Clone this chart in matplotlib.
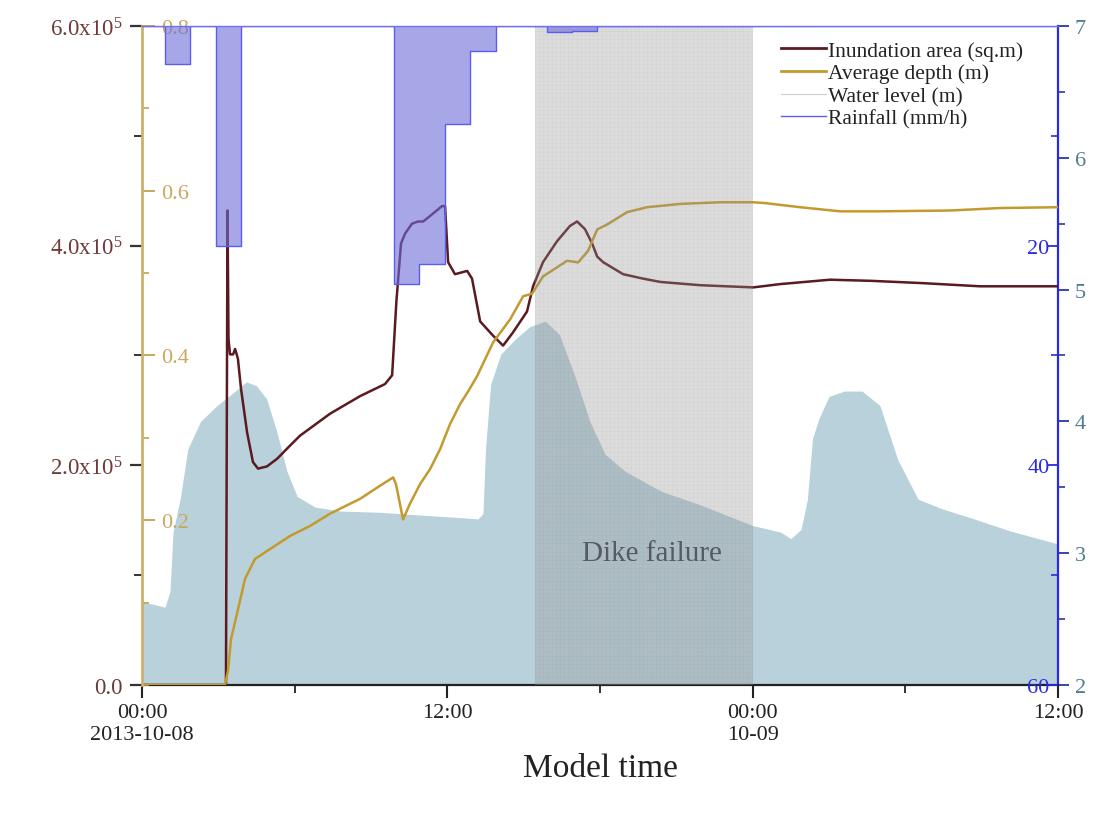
import numpy as np
import matplotlib
matplotlib.use('Agg')
import matplotlib.pyplot as plt
from matplotlib.lines import Line2D
from matplotlib.ticker import MultipleLocator, FixedLocator

plt.rcParams['font.family'] = ['Liberation Serif', 'DejaVu Serif']
plt.rcParams['mathtext.default'] = 'regular'
plt.rcParams['hatch.linewidth'] = 0.35

# model time in hours since 2013-10-08 00:00
wl_t = [0, 0.5, 0.9, 1.1, 1.22, 1.5, 1.8, 2.3, 2.95, 3.6, 4.1, 4.5, 4.9, 5.3, 5.7, 6.1,
        6.8, 7.8, 9.4, 10.9, 12.5, 13.2, 13.4, 13.5, 13.7, 14.1, 14.7, 15.25, 15.85, 16.4,
        17.0, 17.6, 18.2, 19.0, 20.4, 21.9, 24.0, 25.1, 25.5, 25.9, 26.15, 26.35, 26.6,
        27.0, 27.6, 28.3, 29.0, 29.7, 30.5, 31.4, 32.7, 34.1, 36.0]
wl_m = [2.63, 2.61, 2.59, 2.71, 3.16, 3.41, 3.79, 4.00, 4.12, 4.22, 4.30, 4.27, 4.17, 3.92,
        3.62, 3.43, 3.35, 3.32, 3.31, 3.29, 3.27, 3.26, 3.30, 3.79, 4.28, 4.51, 4.63, 4.72,
        4.76, 4.66, 4.35, 4.00, 3.75, 3.62, 3.47, 3.37, 3.21, 3.16, 3.11, 3.18, 3.41, 3.87,
        4.02, 4.19, 4.23, 4.23, 4.12, 3.71, 3.41, 3.34, 3.26, 3.17, 3.07]

area_t = [0, 3.30, 3.36, 3.40, 3.46, 3.58, 3.66, 3.77, 3.89, 4.13, 4.36, 4.56, 4.91, 5.31,
          5.82, 6.21, 7.39, 8.57, 9.55, 9.83, 10.0, 10.18, 10.34, 10.61, 10.85, 11.05, 11.32,
          11.79, 11.91, 12.03, 12.30, 12.78, 12.97, 13.29, 13.80, 14.19, 14.58, 15.13, 15.37,
          15.76, 16.31, 16.82, 17.10, 17.41, 17.69, 17.89, 18.12, 18.91, 19.69, 20.36, 21.93,
          24.02, 25.08, 27.04, 28.62, 30.58, 32.94, 36.0]
area_1e5 = [0, 0, 4.32, 3.15, 3.01, 3.01, 3.06, 2.97, 2.70, 2.30, 2.03, 1.97, 1.99, 2.06,
            2.18, 2.27, 2.47, 2.63, 2.74, 2.82, 3.50, 4.02, 4.11, 4.20, 4.22, 4.22, 4.27,
            4.36, 4.36, 3.85, 3.74, 3.77, 3.70, 3.31, 3.18, 3.09, 3.21, 3.40, 3.63,
            3.85, 4.04, 4.18, 4.22, 4.15, 4.02, 3.90, 3.85, 3.74, 3.70, 3.67, 3.64,
            3.62, 3.65, 3.69, 3.68, 3.66, 3.63, 3.63]

depth_t = [0, 3.26, 3.38, 3.50, 3.73, 4.05, 4.44, 5.03, 5.82, 6.60, 7.39, 8.57, 9.36, 9.87,
           9.98, 10.26, 10.53, 10.93, 11.32, 11.71, 12.11, 12.50, 12.81, 13.17, 13.80, 14.47,
           14.98, 15.33, 15.76, 16.71, 17.14, 17.53, 17.89, 18.28, 19.06, 19.85, 21.15, 22.72,
           24.02, 24.49, 25.86, 27.44, 29.01, 31.76, 33.73, 36.0]
depth_m = [0, 0, 0.017, 0.056, 0.086, 0.129, 0.153, 0.165, 0.181, 0.193, 0.208, 0.226, 0.242,
           0.252, 0.244, 0.201, 0.220, 0.244, 0.262, 0.286, 0.317, 0.341, 0.356, 0.375, 0.416,
           0.444, 0.472, 0.475, 0.496, 0.515, 0.513, 0.527, 0.553, 0.559, 0.574, 0.580, 0.584,
           0.586, 0.586, 0.585, 0.580, 0.575, 0.575, 0.576, 0.579, 0.580]

rain_start = [0, 0.9, 1.9, 2.9, 3.9, 9.9, 10.9, 11.9, 12.9, 13.9, 15.9, 16.9, 17.9, 36.0]
rain_mmh = [0, 3.5, 0, 20, 0, 23.5, 21.7, 8.9, 2.3, 0, 0.55, 0.45, 0, 0]

dike_start, dike_end = 15.45, 24.0
xtick_hours = [0, 12, 24, 36]
xtick_labels = ['00:00\n2013-10-08', '12:00', '00:00\n10-09', '12:00']
area_ticks = [0, 2e5, 4e5, 6e5]
area_labels = ['0.0', '2.0x10$^5$', '4.0x10$^5$', '6.0x10$^5$']

c_area = '#5a1a20'
c_depth = '#c39a2e'
c_blue = '#2a2ae0'
c_wl = '#b9d1db'

fig = plt.figure(figsize=(11.05, 8.2), dpi=100)
ax_w = fig.add_axes([0.1285, 0.1634, 0.8290, 0.8037])
ax_a = ax_w.twinx()
ax_d = ax_w.twinx()
ax_r = ax_w.twinx()

# water level (filled, bottom layer)
ax_w.fill_between(wl_t, wl_m, 2, color=c_wl, linewidth=0)
ax_w.set_ylim(2, 7)
ax_w.set_xlim(0, 36)

# inundation area
ax_a.plot(area_t, np.array(area_1e5) * 1e5, color=c_area, lw=1.8)
ax_a.set_ylim(0, 6e5)

# average depth
ax_d.plot(depth_t, depth_m, color=c_depth, lw=1.8)
ax_d.set_ylim(0, 0.8)

# dike failure period
ax_r.axvspan(dike_start, dike_end, facecolor=(0.58, 0.58, 0.58, 0.32),
             edgecolor=(0.5, 0.5, 0.5, 0.10), hatch='++++', linewidth=0, zorder=1)
ax_r.text((dike_start + dike_end) / 2 + 0.3, 0.2, 'Dike failure', transform=ax_r.get_xaxis_transform(),
          ha='center', va='center', fontsize=21, color='#555b60', zorder=3)

# rainfall (hanging from top)
ax_r.fill_between(rain_start, rain_mmh, 0, step='post', facecolor='#6d6dd9', alpha=0.6,
                  edgecolor='none', zorder=2)
ax_r.step(rain_start, rain_mmh, where='post', color='#5c5cf0', lw=1.0, zorder=2)
ax_r.set_ylim(60, 0)

for a in (ax_w, ax_a, ax_d, ax_r):
    for s in a.spines.values():
        s.set_visible(False)

ax_w.spines['bottom'].set_visible(True)
ax_w.spines['bottom'].set_color('#222222')
ax_w.spines['bottom'].set_linewidth(1.6)
ax_w.spines['right'].set_visible(True)
ax_w.spines['right'].set_color(c_blue)
ax_w.spines['right'].set_linewidth(1.6)
ax_d.spines['left'].set_visible(True)
ax_d.spines['left'].set_color('#cdb070')
ax_d.spines['left'].set_linewidth(2)
ax_r.spines['top'].set_visible(True)
ax_r.spines['top'].set_color('#7070ee')
ax_r.spines['top'].set_linewidth(1.0)

# x axis
ax_w.set_xticks(xtick_hours)
ax_w.set_xticklabels(xtick_labels)
ax_w.xaxis.set_minor_locator(FixedLocator([6, 18, 30]))
ax_w.tick_params(axis='x', which='major', direction='out', length=9, width=1.5,
                 color='#222222', labelsize=16, labelcolor='#222222', pad=4)
ax_w.tick_params(axis='x', which='minor', direction='out', length=6, width=1.3, color='#222222')
ax_w.set_xlabel('Model time', fontsize=24, color='#222222', labelpad=6)

# water level axis: right, outside
ax_w.yaxis.tick_right()
ax_w.set_yticks([2, 3, 4, 5, 6, 7])
ax_w.yaxis.set_minor_locator(MultipleLocator(0.5))
ax_w.tick_params(axis='y', which='major', direction='out', length=8, width=1.3,
                 color='#2a3a9a', labelsize=16, labelcolor='#4d7d8e', pad=4)
ax_w.tick_params(axis='y', which='minor', direction='out', length=5, width=1.2, color='#2a3a9a')

# inundation area axis: left, outside
ax_a.yaxis.tick_left()
ax_a.set_yticks(area_ticks)
ax_a.set_yticklabels(area_labels)
ax_a.yaxis.set_minor_locator(MultipleLocator(1e5))
ax_a.tick_params(axis='y', which='major', direction='out', length=9, width=1.6,
                 color='#333333', labelsize=16.5, labelcolor='#6e3b3b', pad=5)
ax_a.tick_params(axis='y', which='minor', direction='out', length=6, width=1.4, color='#333333')

# depth axis: left, inside
ax_d.yaxis.tick_left()
ax_d.set_yticks([0.2, 0.4, 0.6, 0.8])
ax_d.yaxis.set_minor_locator(MultipleLocator(0.1))
ax_d.tick_params(axis='y', which='major', direction='in', length=9, width=1.3,
                 color='#c4a050', labelsize=16, labelcolor='#c9a860', pad=-13.5)
ax_d.tick_params(axis='y', which='minor', direction='in', length=5, width=1.2, color='#c4a050')
for lab in ax_d.get_yticklabels():
    lab.set_horizontalalignment('left')

# rainfall axis: right, inside
ax_r.yaxis.tick_right()
ax_r.set_yticks([20, 40, 60])
ax_r.yaxis.set_minor_locator(FixedLocator([10, 30, 50]))
ax_r.tick_params(axis='y', which='major', direction='in', length=8, width=1.3,
                 color=c_blue, labelsize=16, labelcolor=c_blue, pad=-6)
ax_r.tick_params(axis='y', which='minor', direction='in', length=5, width=1.2, color=c_blue)
for lab in ax_r.get_yticklabels():
    lab.set_horizontalalignment('right')

handles = [Line2D([], [], color=c_area, lw=2),
           Line2D([], [], color=c_depth, lw=2),
           Line2D([], [], color='#cfcfcf', lw=0.8),
           Line2D([], [], color='#5c5cf0', lw=1.0)]
labels = ['Inundation area (sq.m)', 'Average depth (m)', 'Water level (m)', 'Rainfall (mm/h)']
ax_r.legend(handles, labels, loc='upper left', bbox_to_anchor=(770 / 1105, 1 - 31 / 820),
            bbox_transform=fig.transFigure, frameon=False, fontsize=15.5, borderpad=0,
            handlelength=2.1, handletextpad=0.1, labelspacing=0.12, labelcolor='#222222')

fig.savefig('out.png', dpi=100)
